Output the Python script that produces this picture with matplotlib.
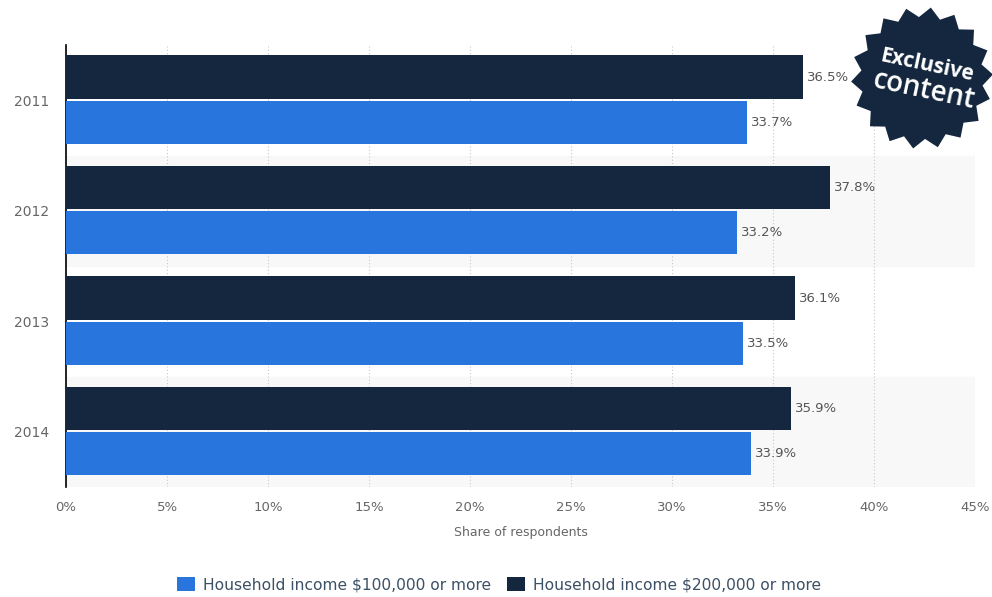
import numpy as np
import matplotlib
matplotlib.use('Agg')
import matplotlib.pyplot as plt
from matplotlib.patches import Polygon

years = ['2011', '2012', '2013', '2014']
income_100k = [33.7, 33.2, 33.5, 33.9]
income_200k = [36.5, 37.8, 36.1, 35.9]
labels = ['Household income $100,000 or more', 'Household income $200,000 or more']

blue = '#2876dd'
dark = '#14273e'

plt.rcParams['font.family'] = ['DejaVu Sans']

fig = plt.figure(figsize=(9.92, 5.97), dpi=100)
ax = fig.add_axes([66 / 992, 1 - 487 / 597, (975 - 66) / 992, (487 - 45) / 597])

y = np.arange(len(years))
h = 0.39
# alternating band shading
for i in range(len(years)):
    if i % 2 == 1:
        ax.axhspan(i - 0.5, i + 0.5, color='#f8f8f8', zorder=0)

b2 = ax.barh(y - 0.21, income_200k, height=h, color=dark, label=labels[1], zorder=3)
b1 = ax.barh(y + 0.2, income_100k, height=h, color=blue, label=labels[0], zorder=3)

for bars, vals in [(b2, income_200k), (b1, income_100k)]:
    for r, v in zip(bars, vals):
        ax.text(v + 0.2, r.get_y() + r.get_height() / 2, '%.1f%%' % v,
                va='center', ha='left', fontsize=9.5, color='#555555', zorder=4)

ax.set_xlim(0, 45)
ax.set_ylim(3.5, -0.5)
ax.set_xticks(np.arange(0, 46, 5))
ax.set_xticklabels(['%d%%' % t for t in range(0, 46, 5)])
ax.set_yticks(y)
ax.set_yticklabels(years)
ax.tick_params(axis='both', length=0, labelcolor='#666666')
ax.tick_params(axis='x', pad=10, labelsize=9.5)
ax.tick_params(axis='y', pad=12, labelsize=10)
ax.xaxis.grid(True, linestyle=(0, (1, 2)), color='#c8c8c8', linewidth=0.8, zorder=1)
ax.set_axisbelow(True)
for s in ['top', 'right', 'bottom']:
    ax.spines[s].set_visible(False)
ax.spines['left'].set_color('#000000')
ax.spines['left'].set_linewidth(1.2)
ax.set_xlabel('Share of respondents', fontsize=9, color='#666666', labelpad=9)

handles, lbls = ax.get_legend_handles_labels()
leg = fig.legend(handles[::-1], lbls[::-1], loc='center', bbox_to_anchor=(499 / 992, 1 - 585 / 597),
                 ncol=2, frameon=False, fontsize=11.2, handlelength=1.2, handleheight=1.0,
                 columnspacing=1.0, handletextpad=0.5)
for t in leg.get_texts():
    t.set_color('#3c5066')

# "Exclusive content" badge
bx = fig.add_axes([852 / 992, 1 - 148 / 597, 140 / 992, 140 / 597])
bx.set_xlim(-70, 70)
bx.set_ylim(-70, 70)
bx.axis('off')
n = 18
ang = np.linspace(0, 2 * np.pi, 2 * n, endpoint=False) + 0.05
rad = np.where(np.arange(2 * n) % 2 == 0, 71, 61)
bx.add_patch(Polygon(np.column_stack([rad * np.cos(ang), rad * np.sin(ang)]), closed=True,
                     facecolor=dark, edgecolor='none', clip_on=False))
bx.text(5, 12, 'Exclusive', rotation=-12, ha='center', va='center', color='white',
        fontsize=15, fontweight='bold', family='Open Sans')
bx.text(2, -12, 'content', rotation=-12, ha='center', va='center', color='white',
        fontsize=20, fontweight='semibold', family='Open Sans')

fig.savefig('out.png', dpi=100)
